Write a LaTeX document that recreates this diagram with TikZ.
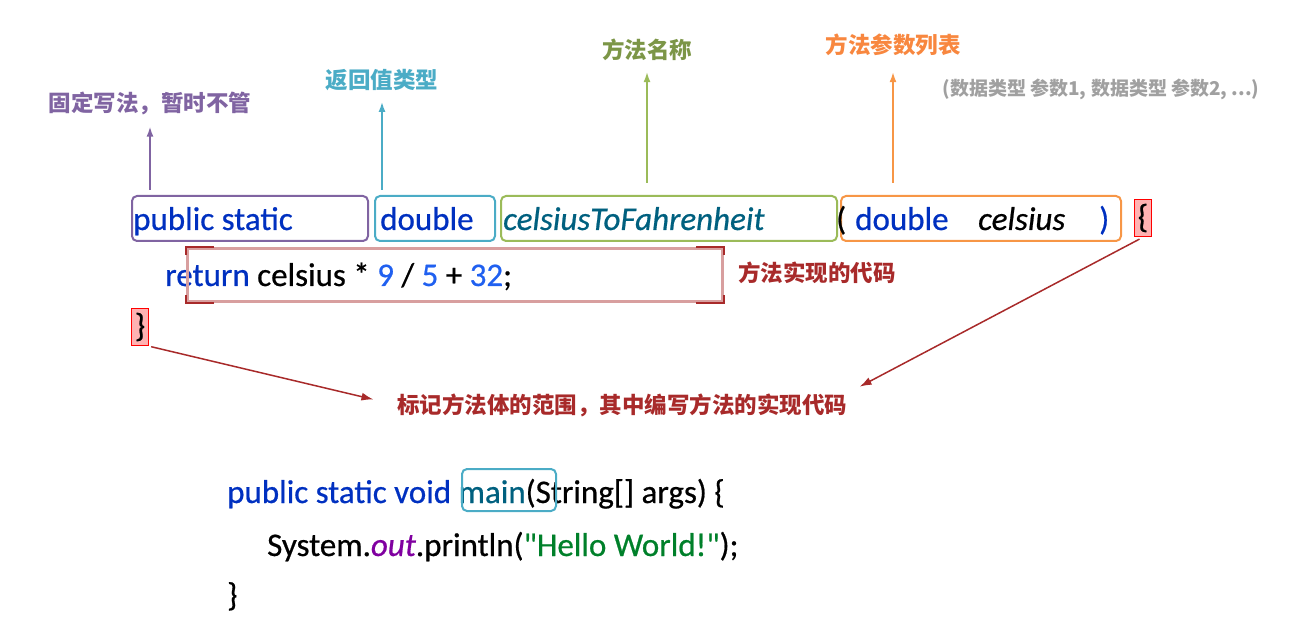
\documentclass[tikz,border=0pt]{standalone}
\usepackage{fontspec}
\setmainfont{Carlito}[FakeBold=0.8,AutoFakeSlant=false]
\newfontfamily\cjk{Noto Sans CJK SC}
\usepackage{xcolor}
\usetikzlibrary{arrows.meta}
\definecolor{fixpurple}{HTML}{8064A2}
\definecolor{retteal}{HTML}{4BACC6}
\definecolor{namegreen}{HTML}{9BBB59}
\definecolor{parorange}{HTML}{F79646}
\definecolor{kwblue}{HTML}{0030C0}
\definecolor{numblue}{HTML}{2060F0}
\definecolor{nameteal}{HTML}{00607F}
\definecolor{outpurple}{HTML}{8000A0}
\definecolor{strgreen}{HTML}{00802A}
\definecolor{implred}{HTML}{A82A2A}
\definecolor{hintgray}{HTML}{A0A0A0}
\newfontfamily\codefont{Carlito}[FakeBold=0.6,ItalicFeatures={FakeBold=0.6}]

\begin{document}
\begin{tikzpicture}[x=1pt,y=-1pt,
  code/.style={font=\codefont\fontsize{33}{36}\selectfont,inner sep=0pt,anchor=base west},
  tag/.style={font=\cjk\bfseries\fontsize{22.5}{26}\selectfont,inner sep=0pt},
  part/.style={draw=#1,rounded corners=5pt,line width=2pt,minimum height=45pt,
    anchor=north west,inner sep=0pt},
  bracebox/.style={draw=red,fill=red!30,line width=1.5pt,minimum width=17pt,
    minimum height=37pt,inner sep=0pt,font=\codefont\fontsize{33}{36}\selectfont},
  up/.style={-{Latex[length=10pt,width=7pt]},line width=1.5pt},
  scopearrow/.style={implred,-{Latex[length=12pt,width=8pt]},line width=1.5pt}]
  \useasboundingbox (0,0) rectangle (1301,628);

  % header parts
  \node[part=fixpurple,minimum width=236pt] (fixbox) at (131,195) {};
  \node[part=retteal,minimum width=120pt] (retbox) at (374,195) {};
  \node[part=namegreen,minimum width=336pt] (namebox) at (500,195) {};
  \node[part=parorange,minimum width=280pt] (parbox) at (840,195) {};
  \node[code,text=kwblue] (pubst) at (133,230) {public static};
  \node[code,text=kwblue] (rettype) at (380,230) {double};
  \node[code,text=nameteal,font=\codefont\fontsize{33}{36}\selectfont\itshape] (fname) at (503,230) {celsiusToFahrenheit};
  \node[code] (lpar) at (836,230) {(};
  \node[code,text=kwblue] (ptype) at (855,230) {double};
  \node[code,font=\codefont\fontsize{33}{36}\selectfont\itshape] (pname) at (978,230) {celsius};
  \node[code,text=kwblue] (rpar) at (1099,230) {)};
  \node[bracebox] (openbr) at (1143,218) {\{};

  % labels above
  \node[tag,text=fixpurple] (fixlab) at (150,103) {固定写法，暂时不管};
  \node[tag,text=retteal] (retlab) at (382,80) {返回值类型};
  \node[tag,text=namegreen!80!black] (namelab) at (647,50) {方法名称};
  \node[tag,text=parorange!90!red] (parlab) at (893,45) {方法参数列表};
  \node[font=\cjk\bfseries\fontsize{19}{22}\selectfont,text=hintgray,inner sep=0pt] (parhint) at (1101,89)
    {(数据类型 参数1, 数据类型 参数2, ...)};
  \draw[up,fixpurple,shorten <=5pt,shorten >=12pt] (fixlab.south |- fixbox.north) -- (fixlab.south);
  \draw[up,retteal,shorten <=5pt,shorten >=11pt] (retlab.south |- retbox.north) -- (retlab.south);
  \draw[up,namegreen,shorten <=12pt,shorten >=11pt] (namelab.south |- namebox.north) -- (namelab.south);
  \draw[up,parorange,shorten <=12pt,shorten >=16pt] (parlab.south |- parbox.north) -- (parlab.south);

  % body
  \node[code] (retline) at (165,286) {\textcolor{kwblue}{return} celsius * \textcolor{numblue}{9} / \textcolor{numblue}{5} + \textcolor{numblue}{32};};
  \node[draw=implred!45,line width=3pt,minimum width=535pt,minimum height=53pt,
    anchor=north west,inner sep=0pt] (impl) at (186,247) {};
  \draw[implred,line width=2pt] ([xshift=28pt]impl.north west) -| ([yshift=-8pt]impl.north west);
  \draw[implred,line width=2pt] ([xshift=28pt]impl.south west) -| ([yshift=8pt]impl.south west);
  \draw[implred,line width=2pt] ([xshift=-28pt]impl.north east) -| ([yshift=-8pt]impl.north east);
  \draw[implred,line width=2pt] ([xshift=-28pt]impl.south east) -| ([yshift=8pt]impl.south east);
  \node[tag,text=implred,anchor=west] (impllab) at (738,273) {方法实现的代码};
  \node[bracebox] (closebr) at (140,327) {\}};

  % scope note
  \node[tag,text=implred] (scopelab) at (622,405) {标记方法体的范围，其中编写方法的实现代码};
  \draw[scopearrow,shorten <=2pt,shorten >=24pt] (closebr.south east) -- (scopelab.west);
  \draw[scopearrow,shorten <=4pt,shorten >=14pt] (openbr.south) -- (scopelab.north east);

  % main example
  \node[code] (mainsig) at (227,503) {\textcolor{kwblue}{public static void }\textcolor{nameteal}{main}(String[] args) \{};
  \node[code] (println) at (267,556) {System.\textcolor{outpurple}{\itshape out}.println(\textcolor{strgreen}{\symbol{34}Hello World!\symbol{34}});};
  \node[code] (mainend) at (227,606) {\}};
  \node[part=retteal,minimum width=94pt,minimum height=42pt] (mainbox) at (461,468) {};
\end{tikzpicture}
\end{document}
